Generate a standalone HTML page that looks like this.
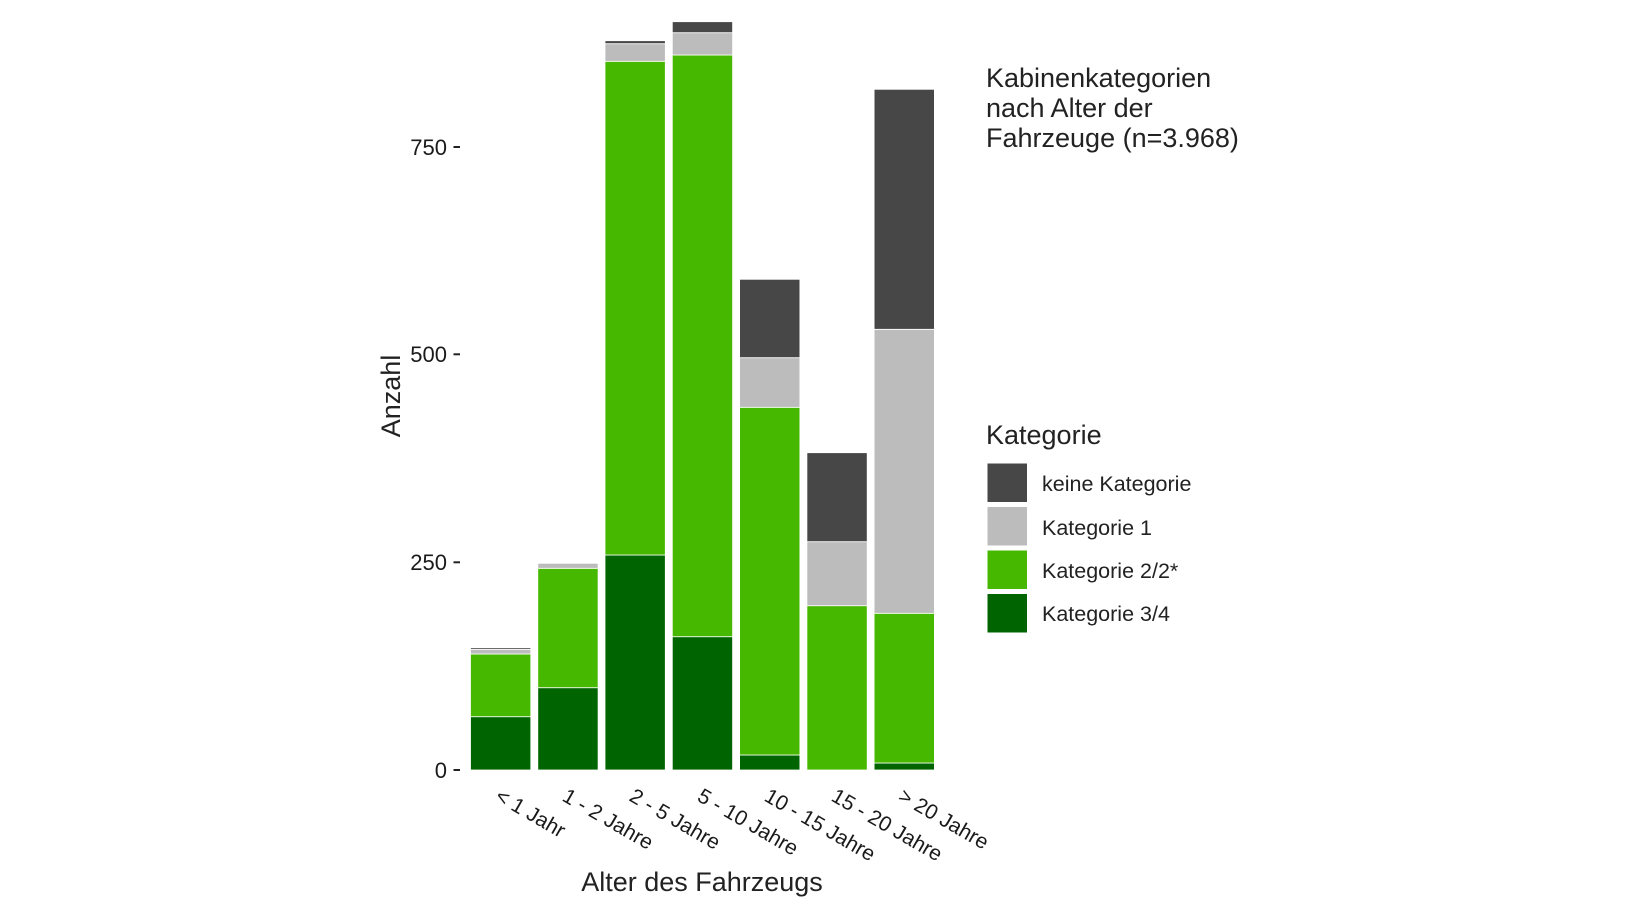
<!DOCTYPE html>
<html><head><meta charset="utf-8"><style>
html,body{margin:0;padding:0;background:#fff;}
svg{display:block;font-family:"Liberation Sans",sans-serif;}
</style></head><body>
<svg width="1632" height="918" viewBox="0 0 1632 918" xmlns="http://www.w3.org/2000/svg">
<g stroke="#fff" stroke-width="0.8">
<!-- bar1 -->
<rect x="470.5" y="716.7" width="60.3" height="53.3" fill="#006400"/>
<rect x="470.5" y="654" width="60.3" height="62.7" fill="#47b800"/>
<rect x="470.5" y="649.3" width="60.3" height="4.7" fill="#bcbcbc"/>
<rect x="470.5" y="647.7" width="60.3" height="1.6" fill="#474747"/>
<!-- bar2 -->
<rect x="537.8" y="687.7" width="60.3" height="82.3" fill="#006400"/>
<rect x="537.8" y="568.3" width="60.3" height="119.4" fill="#47b800"/>
<rect x="537.8" y="563.3" width="60.3" height="5" fill="#bcbcbc"/>
<!-- bar3 -->
<rect x="605" y="555" width="60.3" height="215" fill="#006400"/>
<rect x="605" y="61.3" width="60.3" height="493.7" fill="#47b800"/>
<rect x="605" y="43.7" width="60.3" height="17.6" fill="#bcbcbc"/>
<rect x="605" y="40.7" width="60.3" height="3" fill="#474747"/>
<!-- bar4 -->
<rect x="672.3" y="636.7" width="60.3" height="133.3" fill="#006400"/>
<rect x="672.3" y="55" width="60.3" height="581.7" fill="#47b800"/>
<rect x="672.3" y="32.7" width="60.3" height="22.3" fill="#bcbcbc"/>
<rect x="672.3" y="21.7" width="60.3" height="11" fill="#474747"/>
<!-- bar5 -->
<rect x="739.6" y="755" width="60.3" height="15" fill="#006400"/>
<rect x="739.6" y="407.3" width="60.3" height="347.7" fill="#47b800"/>
<rect x="739.6" y="357.7" width="60.3" height="49.6" fill="#bcbcbc"/>
<rect x="739.6" y="279.3" width="60.3" height="78.4" fill="#474747"/>
<!-- bar6 -->
<rect x="806.9" y="605.7" width="60.3" height="164.3" fill="#47b800"/>
<rect x="806.9" y="541.7" width="60.3" height="64" fill="#bcbcbc"/>
<rect x="806.9" y="452.7" width="60.3" height="89" fill="#474747"/>
<!-- bar7 -->
<rect x="874.1" y="763" width="60.3" height="7" fill="#006400"/>
<rect x="874.1" y="613.3" width="60.3" height="149.7" fill="#47b800"/>
<rect x="874.1" y="329.3" width="60.3" height="284" fill="#bcbcbc"/>
<rect x="874.1" y="89.3" width="60.3" height="240" fill="#474747"/>
</g>
<!-- y axis -->
<g font-size="22" fill="#1a1a1a" text-anchor="end">
<text x="447" y="778">0</text>
<text x="447" y="570">250</text>
<text x="447" y="362">500</text>
<text x="447" y="155">750</text>
</g>
<g stroke="#222" stroke-width="2">
<line x1="453.5" x2="460" y1="770" y2="770"/>
<line x1="453.5" x2="460" y1="562.3" y2="562.3"/>
<line x1="453.5" x2="460" y1="354.3" y2="354.3"/>
<line x1="453.5" x2="460" y1="147" y2="147"/>
</g>
<text transform="translate(400,396) rotate(-90)" font-size="27" fill="#222" text-anchor="middle">Anzahl</text>
<!-- x labels -->
<g font-size="21" fill="#1a1a1a">
<text transform="translate(494,800) rotate(30)">&lt; 1 Jahr</text>
<text transform="translate(561,800) rotate(30)">1 - 2 Jahre</text>
<text transform="translate(628,800) rotate(30)">2 - 5 Jahre</text>
<text transform="translate(696,800) rotate(30)">5 - 10 Jahre</text>
<text transform="translate(763,800) rotate(30)">10 - 15 Jahre</text>
<text transform="translate(830,800) rotate(30)">15 - 20 Jahre</text>
<text transform="translate(897,800) rotate(30)">&gt; 20 Jahre</text>
</g>
<text x="702" y="891" font-size="27" fill="#222" text-anchor="middle">Alter des Fahrzeugs</text>
<!-- title -->
<g font-size="27" fill="#222">
<text x="986" y="87">Kabinenkategorien</text>
<text x="986" y="117">nach Alter der</text>
<text x="986" y="147">Fahrzeuge (n=3.968)</text>
<text x="986" y="444">Kategorie</text>
</g>
<!-- legend -->
<g stroke="#fff" stroke-width="1">
<rect x="987" y="463" width="40.5" height="39.5" fill="#474747"/>
<rect x="987" y="506.5" width="40.5" height="39.5" fill="#bcbcbc"/>
<rect x="987" y="550" width="40.5" height="39.5" fill="#47b800"/>
<rect x="987" y="593.5" width="40.5" height="39.5" fill="#006400"/>
</g>
<g font-size="21.5" fill="#222">
<text x="1042" y="491">keine Kategorie</text>
<text x="1042" y="535">Kategorie 1</text>
<text x="1042" y="578">Kategorie 2/2*</text>
<text x="1042" y="621">Kategorie 3/4</text>
</g>
</svg>
</body></html>
